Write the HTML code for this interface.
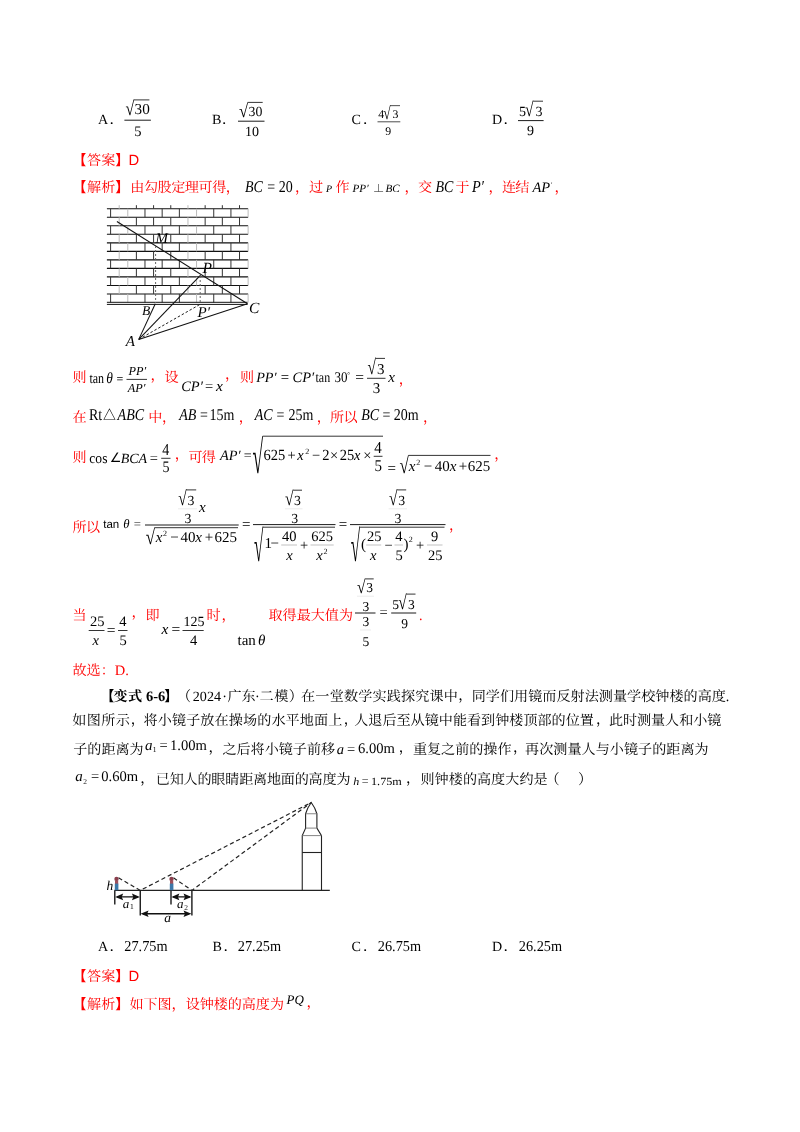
<!DOCTYPE html>
<html lang="zh"><head><meta charset="utf-8"><title>page</title>
<style>html,body{margin:0;padding:0;background:#fff}svg{display:block}text{font-family:"Liberation Serif","Noto Serif CJK SC",serif;white-space:pre;text-rendering:geometricPrecision}</style>
</head><body>
<svg width="800" height="1132" viewBox="0 0 800 1132">
<text x="98" y="123.8" font-size="14.1">A</text>
<text x="109.5" y="123.8" font-size="14.1">．</text>
<line x1="124.4" y1="120.2" x2="150.9" y2="120.2" stroke="#000" stroke-width="0.9"/>
<text transform="translate(125.50 115.10) scale(0.798 0.987)" font-size="20.0">√</text>
<line x1="133.9" y1="99.9" x2="149.4" y2="99.9" stroke="#000" stroke-width="0.8"/>
<text x="134.6" y="114.4" font-size="15.2">30</text>
<text x="134.2" y="135.6" font-size="14.5">5</text>
<text x="211.9" y="123.8" font-size="14.1">B</text>
<text x="222" y="123.8" font-size="14.1">．</text>
<line x1="238" y1="121.2" x2="264.5" y2="121.2" stroke="#000" stroke-width="0.9"/>
<text transform="translate(238.99 116.51) scale(0.827 0.918)" font-size="20.0">√</text>
<line x1="247.7" y1="102.4" x2="262.7" y2="102.4" stroke="#000" stroke-width="0.8"/>
<text x="248.5" y="115.7" font-size="13.8">30</text>
<text x="245" y="135.7" font-size="14">10</text>
<text x="351.5" y="123.8" font-size="14.1">C</text>
<text x="363" y="123.8" font-size="14.1">．</text>
<line x1="377.5" y1="121.8" x2="400.3" y2="121.8" stroke="#000" stroke-width="0.7"/>
<text x="378.3" y="118.4" font-size="11.8">4</text>
<text transform="translate(383.26 119.21) scale(0.673 0.881)" font-size="20.0">√</text>
<line x1="390.3" y1="105.64999999999999" x2="400" y2="105.64999999999999" stroke="#000" stroke-width="0.7"/>
<text x="392.5" y="118.4" font-size="11.8">3</text>
<text x="385.3" y="134.7" font-size="11.8">9</text>
<text x="492" y="123.8" font-size="14.1">D</text>
<text x="503.5" y="123.8" font-size="14.1">．</text>
<line x1="518" y1="120.6" x2="543.6" y2="120.6" stroke="#000" stroke-width="0.9"/>
<text x="519" y="115.6" font-size="14">5</text>
<text transform="translate(525.12 116.30) scale(0.769 0.981)" font-size="20.0">√</text>
<line x1="533.2" y1="101.2" x2="543" y2="101.2" stroke="#000" stroke-width="0.8"/>
<text x="535.5" y="115.6" font-size="14">3</text>
<text x="527" y="135.2" font-size="14">9</text>
<text x="72.2" y="164.5" font-size="14.1" fill="#f00" font-weight="bold" style='font-family:"Noto Sans CJK SC",sans-serif'>【</text>
<text x="87.1" y="164.5" font-size="14.1" fill="#f00">答案</text>
<text x="115.3" y="164.5" font-size="14.1" fill="#f00" font-weight="bold" style='font-family:"Noto Sans CJK SC",sans-serif'>】</text>
<text x="128.5" y="164.5" font-size="14.8" fill="#f00" style='font-family:"Liberation Sans",sans-serif'>D</text>
<text x="72.2" y="191.5" font-size="14.1" fill="#f00" font-weight="bold" style='font-family:"Noto Sans CJK SC",sans-serif'>【</text>
<text x="87.1" y="191.5" font-size="14.1" fill="#f00">解析</text>
<text x="115.3" y="191.5" font-size="14.1" fill="#f00" font-weight="bold" style='font-family:"Noto Sans CJK SC",sans-serif'>】</text>
<text x="130.3" y="191.5" font-size="14.1" fill="#f00" letter-spacing="-0.45">由勾股定理可得，</text>
<text transform="translate(245 191.5) scale(1 1.18)" font-size="14" font-style="italic">BC</text>
<text transform="translate(267.3 191.5) scale(1 1.18)" font-size="14">=</text>
<text transform="translate(278.7 191.5) scale(1 1.18)" font-size="14">20</text>
<text x="295" y="191.5" font-size="14.1" fill="#f00">，</text>
<text x="309" y="191.5" font-size="14.1" fill="#f00">过</text>
<text x="326" y="191.5" font-size="10" font-style="italic">P</text>
<text x="335.5" y="191.5" font-size="14.1" fill="#f00">作</text>
<text x="352.5" y="191.5" font-size="11.2" font-style="italic">PP′</text>
<text x="373" y="191.5" font-size="11.2">⊥</text>
<text x="385.5" y="191.5" font-size="11.2" font-style="italic">BC</text>
<text x="404.5" y="191.5" font-size="14.1" fill="#f00">，</text>
<text x="418" y="191.5" font-size="14.1" fill="#f00">交</text>
<text transform="translate(435.5 191.5) scale(1 1.18)" font-size="14" font-style="italic">BC</text>
<text x="455.5" y="191.5" font-size="14.1" fill="#f00">于</text>
<text transform="translate(472 191.5) scale(1 1.18)" font-size="14.3" font-style="italic">P′</text>
<text x="488.5" y="191.5" font-size="14.1" fill="#f00">，</text>
<text x="502" y="191.5" font-size="14.1" fill="#f00" letter-spacing="-0.8">连结</text>
<text x="532.5" y="191.5" font-size="14.5" font-style="italic">AP</text>
<text x="550.5" y="186.5" font-size="7" font-style="italic">′</text>
<text x="554.5" y="191.5" font-size="14.1" fill="#f00">，</text>
<text x="72.5" y="382.3" font-size="14.1" fill="#f00">则</text>
<text transform="translate(89.4 382.5) scale(1 1.22)" font-size="12">tan</text>
<text transform="translate(106.3 382.5) scale(1 1.15)" font-size="13.5" font-style="italic">θ</text>
<text transform="translate(116.5 382.5) scale(1 1.1)" font-size="12">=</text>
<line x1="126.5" y1="379.4" x2="147" y2="379.4" stroke="#000" stroke-width="0.8"/>
<text x="128.5" y="374.8" font-size="12.3" font-style="italic">PP′</text>
<text x="127.7" y="392.3" font-size="12.3" font-style="italic">AP′</text>
<text x="150.5" y="379.5" font-size="14.1" fill="#f00">，</text>
<text x="164.5" y="382.3" font-size="14.1" fill="#f00">设</text>
<text x="181.2" y="391.2" font-size="14.5" font-style="italic">CP′</text>
<text x="205" y="391.2" font-size="14.5">=</text>
<text x="216" y="391.2" font-size="15.5" font-style="italic">x</text>
<text x="225" y="379" font-size="14.1" fill="#f00">，</text>
<text x="240" y="382.3" font-size="14.1" fill="#f00">则</text>
<text x="256.2" y="382" font-size="14.2" font-style="italic">PP′</text>
<text x="280.8" y="382" font-size="14.8">=</text>
<text x="292.5" y="382" font-size="14.5" font-style="italic">CP′</text>
<text transform="translate(315.5 382) scale(1 1.2)" font-size="12">tan</text>
<text transform="translate(334.4 382) scale(0.88 1)" font-size="14.8">30</text>
<text x="347.3" y="377" font-size="7">°</text>
<text x="355.2" y="382" font-size="15.5">=</text>
<line x1="367" y1="378.3" x2="385.5" y2="378.3" stroke="#000" stroke-width="0.8"/>
<text transform="translate(367.62 374.40) scale(0.769 1.038)" font-size="20.0">√</text>
<line x1="375.7" y1="358.4" x2="385" y2="358.4" stroke="#000" stroke-width="0.8"/>
<text x="377" y="373.8" font-size="15">3</text>
<text x="372.8" y="392.5" font-size="15">3</text>
<text x="388.3" y="382" font-size="15" font-style="italic">x</text>
<text x="398.7" y="383.5" font-size="14.1" fill="#f00">，</text>
<text x="72.5" y="421.5" font-size="14.1" fill="#f00">在</text>
<text transform="translate(89 420) scale(1 1.18)" font-size="14">Rt</text>
<text transform="translate(102.9 420.2) scale(1 1.1)" font-size="12.9" style='font-family:"Noto Serif CJK SC",serif'>△</text>
<text transform="translate(117.6 420) scale(1 1.18)" font-size="14" font-style="italic">ABC</text>
<text x="148.3" y="421.5" font-size="14.1" fill="#f00" letter-spacing="-0.5">中，</text>
<text transform="translate(179.2 420) scale(1 1.18)" font-size="14" font-style="italic">AB</text>
<text transform="translate(200 420) scale(1 1.18)" font-size="14">=</text>
<text transform="translate(209.5 420) scale(1 1.18)" font-size="14">15m</text>
<text x="238.7" y="421.5" font-size="14.1" fill="#f00">，</text>
<text transform="translate(254.7 420) scale(1 1.18)" font-size="14" font-style="italic">AC</text>
<text transform="translate(276.5 420) scale(1 1.18)" font-size="14">=</text>
<text transform="translate(288.5 420) scale(1 1.18)" font-size="14">25m</text>
<text x="316.7" y="421.5" font-size="14.1" fill="#f00">，</text>
<text x="330" y="421.5" font-size="14.1" fill="#f00" letter-spacing="-0.5">所以</text>
<text transform="translate(361.2 420) scale(1 1.18)" font-size="14" font-style="italic">BC</text>
<text transform="translate(382.5 420) scale(1 1.18)" font-size="14">=</text>
<text transform="translate(393.7 420) scale(1 1.18)" font-size="14">20m</text>
<text x="423" y="421.5" font-size="14.1" fill="#f00">，</text>
<text x="72.5" y="462.3" font-size="14.1" fill="#f00">则</text>
<text transform="translate(89.3 462.5) scale(1 1.08)" font-size="13.6">cos</text>
<text x="109.7" y="462.3" font-size="13" style='font-family:"DejaVu Sans",sans-serif'>∠</text>
<text x="120.7" y="462.5" font-size="14" font-style="italic">BCA</text>
<text x="149.8" y="462.5" font-size="14.5">=</text>
<line x1="161.2" y1="458.3" x2="170.5" y2="458.3" stroke="#000" stroke-width="0.8"/>
<text transform="translate(162.2 454.5) scale(1 1.2)" font-size="14">4</text>
<text transform="translate(162.4 472.3) scale(1 1.14)" font-size="14">5</text>
<text x="174.7" y="458.5" font-size="14.1" fill="#f00">，</text>
<text x="188.5" y="462.3" font-size="14.1" fill="#f00" letter-spacing="-0.8">可得</text>
<text x="220" y="460.2" font-size="14.3" font-style="italic">AP′</text>
<text x="243.8" y="460" font-size="14">=</text>
<text transform="translate(252.52 472.57) scale(0.962 2.327)" font-size="20.0">√</text>
<line x1="262.7" y1="436.2" x2="383" y2="436.2" stroke="#000" stroke-width="0.8"/>
<text transform="translate(263.4 460) scale(1 1.07)" font-size="14.5">625</text>
<text x="287.6" y="460" font-size="14.5">+</text>
<text transform="translate(297.3 460) scale(1 1.07)" font-size="14.5" font-style="italic">x</text>
<text x="305.3" y="453.7" font-size="8">2</text>
<text x="312" y="460" font-size="14.5">−</text>
<text transform="translate(322.2 460) scale(1 1.07)" font-size="14.5">2</text>
<text x="330" y="460" font-size="14.5">×</text>
<text transform="translate(339.7 460) scale(1 1.07)" font-size="14.5">25</text>
<text transform="translate(354 460) scale(1 1.07)" font-size="14.5" font-style="italic">x</text>
<text x="363.3" y="460" font-size="14.5">×</text>
<line x1="373.7" y1="456.3" x2="382.5" y2="456.3" stroke="#000" stroke-width="0.8"/>
<text transform="translate(374.3 452.5) scale(1 1.12)" font-size="15">4</text>
<text transform="translate(374.5 471.2) scale(1 1.1)" font-size="15">5</text>
<text x="387.5" y="472.5" font-size="15">=</text>
<text transform="translate(399.58 472.69) scale(0.846 1.119)" font-size="20.0">√</text>
<line x1="408.5" y1="455.4" x2="490.5" y2="455.4" stroke="#000" stroke-width="0.8"/>
<text x="408.7" y="471.2" font-size="15" font-style="italic">x</text>
<text x="416.3" y="465" font-size="8">2</text>
<text x="423.7" y="471.2" font-size="15">−</text>
<text x="434.7" y="471.2" font-size="15">40</text>
<text x="449.7" y="471.2" font-size="15" font-style="italic">x</text>
<text x="458.7" y="471.2" font-size="15">+</text>
<text x="467.7" y="471.2" font-size="15">625</text>
<text x="494.2" y="459" font-size="14.1" fill="#f00">，</text>
<text x="72.5" y="532.3" font-size="14.1" fill="#f00" letter-spacing="-0.5">所以</text>
<text x="103.2" y="528.3" font-size="11.5" style='font-family:"Liberation Sans",sans-serif'>tan</text>
<text x="123.2" y="528.3" font-size="12.8" font-style="italic">θ</text>
<text x="133.8" y="528.2" font-size="12.8">=</text>
<line x1="145" y1="525" x2="238.7" y2="525" stroke="#000" stroke-width="0.9"/>
<text transform="translate(178.32 505.40) scale(0.769 1.006)" font-size="20.0">√</text>
<line x1="186.39999999999998" y1="489.9" x2="196.2" y2="489.9" stroke="#000" stroke-width="0.8"/>
<text x="187.6" y="504.5" font-size="13.8">3</text>
<line x1="178" y1="508.8" x2="197" y2="508.8" stroke="#ddd" stroke-width="0.6"/>
<text x="184.6" y="523" font-size="13.8">3</text>
<text x="198.9" y="512.3" font-size="15" font-style="italic">x</text>
<text transform="translate(145.78 543.89) scale(0.846 1.050)" font-size="20.0">√</text>
<line x1="154.7" y1="527.6999999999999" x2="238" y2="527.6999999999999" stroke="#000" stroke-width="0.8"/>
<text x="155.7" y="542" font-size="15" font-style="italic">x</text>
<text x="163" y="535.5" font-size="8">2</text>
<text x="170.2" y="542" font-size="15">−</text>
<text x="180.5" y="542" font-size="15">40</text>
<text x="195.3" y="542" font-size="15" font-style="italic">x</text>
<text x="204.8" y="542" font-size="15">+</text>
<text x="214.6" y="542" font-size="15">625</text>
<text x="242" y="529" font-size="15">=</text>
<line x1="253" y1="524.6" x2="335.5" y2="524.6" stroke="#000" stroke-width="0.9"/>
<text transform="translate(285.12 505.40) scale(0.769 0.987)" font-size="20.0">√</text>
<line x1="293.2" y1="490.2" x2="302" y2="490.2" stroke="#000" stroke-width="0.8"/>
<text x="293.9" y="504.5" font-size="13.8">3</text>
<line x1="285" y1="508.8" x2="302.5" y2="508.8" stroke="#ddd" stroke-width="0.6"/>
<text x="291.3" y="523" font-size="13.8">3</text>
<text transform="translate(254.08 561.28) scale(0.846 2.182)" font-size="20.0">√</text>
<line x1="263.0" y1="527.1999999999999" x2="335" y2="527.1999999999999" stroke="#000" stroke-width="0.8"/>
<text x="264.5" y="548" font-size="15">1</text>
<text x="270.5" y="548" font-size="15">−</text>
<line x1="281.2" y1="545" x2="297" y2="545" stroke="#999" stroke-width="0.6"/>
<text x="282" y="541.2" font-size="14.5">40</text>
<text x="286.2" y="560" font-size="14.5" font-style="italic">x</text>
<text x="300" y="549.5" font-size="14.5">+</text>
<line x1="310.5" y1="545" x2="333.7" y2="545" stroke="#999" stroke-width="0.6"/>
<text x="311.2" y="541.2" font-size="14.5">625</text>
<text x="316.2" y="560" font-size="14.5" font-style="italic">x</text>
<text x="323.5" y="554" font-size="8">2</text>
<text x="338.7" y="529" font-size="15">=</text>
<line x1="350" y1="524.6" x2="445.5" y2="524.6" stroke="#000" stroke-width="0.9"/>
<text transform="translate(389.12 505.40) scale(0.769 1.006)" font-size="20.0">√</text>
<line x1="397.2" y1="489.9" x2="406.2" y2="489.9" stroke="#000" stroke-width="0.8"/>
<text x="398.2" y="504.5" font-size="13.8">3</text>
<line x1="388.7" y1="508.8" x2="407" y2="508.8" stroke="#ddd" stroke-width="0.6"/>
<text x="394.6" y="523" font-size="13.8">3</text>
<text transform="translate(350.78 561.28) scale(0.846 2.182)" font-size="20.0">√</text>
<line x1="359.7" y1="527.1999999999999" x2="444.5" y2="527.1999999999999" stroke="#000" stroke-width="0.8"/>
<text x="361" y="549" font-size="15">(</text>
<line x1="366.2" y1="545" x2="381.2" y2="545" stroke="#999" stroke-width="0.6"/>
<text x="367" y="541.2" font-size="14.5">25</text>
<text x="370" y="560" font-size="14.5" font-style="italic">x</text>
<text x="384.5" y="549.5" font-size="14.5">−</text>
<line x1="394.5" y1="545" x2="403" y2="545" stroke="#999" stroke-width="0.6"/>
<text x="395.3" y="541.2" font-size="14.5">4</text>
<text x="395.5" y="560" font-size="14.5">5</text>
<text x="403.5" y="549" font-size="15">)</text>
<text x="408.7" y="542" font-size="8">2</text>
<text x="416" y="549.5" font-size="14.5">+</text>
<line x1="427" y1="545" x2="442.5" y2="545" stroke="#999" stroke-width="0.6"/>
<text x="431" y="541.2" font-size="14.5">9</text>
<text x="428" y="560" font-size="14.5">25</text>
<text x="449" y="530" font-size="14.1" fill="#f00">，</text>
<text x="72.5" y="620" font-size="14.1" fill="#f00">当</text>
<line x1="88.7" y1="630.5" x2="104.5" y2="630.5" stroke="#000" stroke-width="0.8"/>
<text x="90" y="626.2" font-size="14.5">25</text>
<text x="92.5" y="645" font-size="14.5" font-style="italic">x</text>
<text x="106.8" y="634.7" font-size="15.5">=</text>
<line x1="118" y1="630.5" x2="127.5" y2="630.5" stroke="#000" stroke-width="0.8"/>
<text x="119.3" y="626.2" font-size="14.5">4</text>
<text x="119.5" y="645" font-size="14.5">5</text>
<text x="131.5" y="617" font-size="14.1" fill="#f00">，</text>
<text x="145.5" y="620" font-size="14.1" fill="#f00">即</text>
<text x="161.4" y="633.9" font-size="15.5" font-style="italic">x</text>
<text x="171.6" y="633.9" font-size="15.5">=</text>
<line x1="182.5" y1="630.5" x2="203.7" y2="630.5" stroke="#000" stroke-width="0.8"/>
<text x="183.6" y="626.2" font-size="14">125</text>
<text x="190" y="645" font-size="14.5">4</text>
<text x="206.5" y="620" font-size="14.1" fill="#f00">时</text>
<text x="221.5" y="620" font-size="14.1" fill="#f00">，</text>
<text x="237.5" y="644.5" font-size="15">tan</text>
<text x="258" y="644.5" font-size="15" font-style="italic">θ</text>
<text x="268.5" y="620" font-size="14.1" fill="#f00">取得最大值为</text>
<line x1="355" y1="613" x2="375.5" y2="613" stroke="#000" stroke-width="0.9"/>
<text transform="translate(357.12 592.91) scale(0.769 0.912)" font-size="20.0">√</text>
<line x1="365.2" y1="578.9" x2="373.7" y2="578.9" stroke="#000" stroke-width="0.8"/>
<text x="366.2" y="592" font-size="13.5">3</text>
<line x1="357" y1="596.2" x2="374" y2="596.2" stroke="#ddd" stroke-width="0.6"/>
<text x="362.5" y="611.2" font-size="13.5">3</text>
<text x="362.5" y="626" font-size="13.5">3</text>
<line x1="360" y1="630" x2="371" y2="630" stroke="#ddd" stroke-width="0.6"/>
<text x="362.5" y="645.5" font-size="13.5">5</text>
<text x="379.5" y="617" font-size="14.5">=</text>
<line x1="391.2" y1="613" x2="416.2" y2="613" stroke="#000" stroke-width="0.9"/>
<text x="392.3" y="608.7" font-size="13.5">5</text>
<text transform="translate(398.32 609.40) scale(0.769 0.994)" font-size="20.0">√</text>
<line x1="406.4" y1="594.1" x2="415.5" y2="594.1" stroke="#000" stroke-width="0.8"/>
<text x="408" y="608.7" font-size="13.5">3</text>
<text x="401.2" y="627.5" font-size="13.5">9</text>
<text x="419" y="620" font-size="14.1" fill="#f00">.</text>
<text x="72.5" y="675" font-size="14.1" fill="#f00">故选：</text>
<text x="114.8" y="675" font-size="14.5" fill="#f00">D.</text>
<text x="100.3" y="700.8" font-size="14.1" font-weight="bold" style='font-family:"Noto Sans CJK SC",sans-serif'>【</text>
<text x="113.50 128.00" y="700.8" font-size="14.1" font-weight="bold">变式</text>
<text x="146" y="700.8" font-size="14.5" font-weight="bold">6-6</text>
<text x="164.3" y="700.8" font-size="14.1" font-weight="bold" style='font-family:"Noto Sans CJK SC",sans-serif'>】</text>
<text x="177" y="700.8" font-size="14.1">（</text>
<text x="192.8" y="700.8" font-size="14.1">2024</text>
<text x="222.2" y="700.8" font-size="14.1">·</text>
<text x="227.40 241.60" y="700.8" font-size="14.1">广东</text>
<text x="255" y="700.8" font-size="14.1">·</text>
<text x="259.60 274.15 288.70" y="700.8" font-size="14.1">二模）</text>
<text x="301.10 315.37 329.64 343.91 358.18 372.45 386.72 400.99 415.26 429.53 443.80" y="700.8" font-size="14.1">在一堂数学实践探究课中</text>
<text x="458.3" y="699.5999999999999" font-size="14.1">，</text>
<text x="471.70 485.82 499.94 514.06 528.18 542.30 556.42 570.54 584.66 598.79 612.91 627.03 641.15 655.27 669.39 683.51 697.63 711.75" y="700.8" font-size="14.1">同学们用镜而反射法测量学校钟楼的高度</text>
<text x="725.8" y="700.8" font-size="14.1">.</text>
<text x="72.30 86.75 101.20 115.65" y="725.1" font-size="14.1">如图所示</text>
<text x="130.8" y="723.9" font-size="14.1">，</text>
<text x="143.50 157.71 171.92 186.13 200.35 214.56 228.77 242.98 257.19 271.40 285.62 299.83 314.04 328.25" y="725.1" font-size="14.1">将小镜子放在操场的水平地面上</text>
<text x="343.8" y="723.9" font-size="14.1">，</text>
<text x="354.20 368.30 382.40 396.50 410.60 424.70 438.80 452.90 467.00 481.10 495.20 509.30 523.40 537.50 551.60 565.70 579.80" y="725.1" font-size="14.1">人退后至从镜中能看到钟楼顶部的位置</text>
<text x="596" y="723.9" font-size="14.1">，</text>
<text x="608.90 622.95 637.00 651.05 665.10 679.15 693.20 707.25" y="725.1" font-size="14.1">此时测量人和小镜</text>
<text x="73.25 87.31 101.38 115.44 129.50" y="753.5" font-size="14.1">子的距离为</text>
<text x="145" y="749.6" font-size="15" font-style="italic">a</text>
<text x="152.7" y="752.3" font-size="7.5">1</text>
<text x="159.6" y="749.6" font-size="14.5">=</text>
<text x="170" y="749.6" font-size="14.6">1.00m</text>
<text x="208.5" y="752.3" font-size="14.1">，</text>
<text x="222.40 236.49 250.57 264.66 278.74 292.83 306.91 321.00" y="753.5" font-size="14.1">之后将小镜子前移</text>
<text x="336.8" y="753.5" font-size="14.5" font-style="italic">a</text>
<text x="347" y="753.5" font-size="14.5">=</text>
<text x="358" y="753.2" font-size="14.6">6.00m</text>
<text x="398.8" y="752.3" font-size="14.1">，</text>
<text x="412.90 426.98 441.07 455.15 469.23 483.32 497.40" y="753.5" font-size="14.1">重复之前的操作</text>
<text x="513" y="752.3" font-size="14.1">，</text>
<text x="525.10 539.22 553.33 567.45 581.57 595.68 609.80 623.92 638.03 652.15 666.27 680.38 694.50" y="753.5" font-size="14.1">再次测量人与小镜子的距离为</text>
<text x="75.3" y="780.6" font-size="15" font-style="italic">a</text>
<text x="83.2" y="783.5" font-size="7.5">2</text>
<text x="91" y="780.6" font-size="14.5">=</text>
<text x="101.3" y="780.6" font-size="14.6">0.60m</text>
<text x="140.3" y="783.1999999999999" font-size="14.1">，</text>
<text x="155.75 169.65 183.54 197.44 211.33 225.23 239.13 253.02 266.92 280.82 294.71 308.61 322.50 336.40" y="784.4" font-size="14.1">已知人的眼睛距离地面的高度为</text>
<text transform="translate(353.3 784.7) scale(1 0.9)" font-size="12" font-style="italic">h</text>
<text x="361.7" y="784.7" font-size="12">=</text>
<text transform="translate(371 784.7) scale(1 0.9)" font-size="12.2">1.75m</text>
<text x="406" y="783.1999999999999" font-size="14.1">，</text>
<text x="420.50 434.62 448.75 462.88 477.00 491.12 505.25 519.38 533.50" y="784.4" font-size="14.1">则钟楼的高度大约是</text>
<text x="545.5" y="784.4" font-size="14.1">（</text>
<text x="578" y="784.4" font-size="14.1">）</text>
<text x="98" y="951.2" font-size="14.1">A</text>
<text x="109.5" y="951.2" font-size="14.1">．</text>
<text transform="translate(124.3 951) scale(1 1.06)" font-size="14.3">27.75m</text>
<text x="212.5" y="951.2" font-size="14.1">B</text>
<text x="223.5" y="951.2" font-size="14.1">．</text>
<text transform="translate(237.8 951) scale(1 1.06)" font-size="14.3">27.25m</text>
<text x="351.5" y="951.2" font-size="14.1">C</text>
<text x="363" y="951.2" font-size="14.1">．</text>
<text transform="translate(377.8 951) scale(1 1.06)" font-size="14.3">26.75m</text>
<text x="492" y="951.2" font-size="14.1">D</text>
<text x="503.5" y="951.2" font-size="14.1">．</text>
<text transform="translate(518.8 951) scale(1 1.06)" font-size="14.3">26.25m</text>
<text x="72.2" y="981.3" font-size="14.1" fill="#f00" font-weight="bold" style='font-family:"Noto Sans CJK SC",sans-serif'>【</text>
<text x="87.1" y="981.3" font-size="14.1" fill="#f00">答案</text>
<text x="115.3" y="981.3" font-size="14.1" fill="#f00" font-weight="bold" style='font-family:"Noto Sans CJK SC",sans-serif'>】</text>
<text x="128.5" y="981.3" font-size="14.8" fill="#f00" style='font-family:"Liberation Sans",sans-serif'>D</text>
<text x="72.2" y="1008.5" font-size="14.1" fill="#f00" font-weight="bold" style='font-family:"Noto Sans CJK SC",sans-serif'>【</text>
<text x="87.1" y="1008.5" font-size="14.1" fill="#f00">解析</text>
<text x="115.3" y="1008.5" font-size="14.1" fill="#f00" font-weight="bold" style='font-family:"Noto Sans CJK SC",sans-serif'>】</text>
<text x="129.5" y="1008.5" font-size="14.1" fill="#f00" textLength="154.5">如下图，设钟楼的高度为</text>
<text x="286.6" y="1004.4" font-size="13" font-style="italic">PQ</text>
<text x="306.5" y="1006.8" font-size="14.1" fill="#f00">，</text>
<g stroke="#111" stroke-width="1.1" fill="none">
<path d="M106.9 208.75H248.1"/>
<path d="M106.9 217.27H248.1"/>
<path d="M106.9 225.79H248.1"/>
<path d="M106.9 234.31H248.1"/>
<path d="M106.9 242.83H248.1"/>
<path d="M106.9 251.35H248.1"/>
<path d="M106.9 259.87H248.1"/>
<path d="M106.9 268.39H248.1"/>
<path d="M106.9 276.91H248.1"/>
<path d="M106.9 285.43H248.1"/>
<path d="M106.9 293.95H248.1"/>
</g>
<g stroke="#333" stroke-width="1" fill="none">
<path d="M110.60 208.75V217.27"/>
<path d="M127.79 208.75V217.27" stroke="#bbb"/>
<path d="M144.98 208.75V217.27"/>
<path d="M162.17 208.75V217.27"/>
<path d="M179.36 208.75V217.27"/>
<path d="M196.55 208.75V217.27" stroke="#bbb"/>
<path d="M213.74 208.75V217.27"/>
<path d="M230.93 208.75V217.27"/>
<path d="M248.12 208.75V217.27" stroke="#bbb"/>
<path d="M119.20 217.27V225.79" stroke="#bbb"/>
<path d="M136.39 217.27V225.79"/>
<path d="M153.58 217.27V225.79"/>
<path d="M170.77 217.27V225.79"/>
<path d="M187.96 217.27V225.79" stroke="#bbb"/>
<path d="M205.15 217.27V225.79"/>
<path d="M222.34 217.27V225.79"/>
<path d="M239.53 217.27V225.79"/>
<path d="M110.60 225.79V234.31"/>
<path d="M127.79 225.79V234.31" stroke="#bbb"/>
<path d="M144.98 225.79V234.31"/>
<path d="M162.17 225.79V234.31"/>
<path d="M179.36 225.79V234.31"/>
<path d="M196.55 225.79V234.31" stroke="#bbb"/>
<path d="M213.74 225.79V234.31"/>
<path d="M230.93 225.79V234.31"/>
<path d="M248.12 225.79V234.31" stroke="#bbb"/>
<path d="M119.20 234.31V242.83" stroke="#bbb"/>
<path d="M136.39 234.31V242.83"/>
<path d="M153.58 234.31V242.83"/>
<path d="M170.77 234.31V242.83"/>
<path d="M187.96 234.31V242.83" stroke="#bbb"/>
<path d="M205.15 234.31V242.83"/>
<path d="M222.34 234.31V242.83"/>
<path d="M239.53 234.31V242.83"/>
<path d="M110.60 242.83V251.35"/>
<path d="M127.79 242.83V251.35" stroke="#bbb"/>
<path d="M144.98 242.83V251.35"/>
<path d="M162.17 242.83V251.35"/>
<path d="M179.36 242.83V251.35"/>
<path d="M196.55 242.83V251.35" stroke="#bbb"/>
<path d="M213.74 242.83V251.35"/>
<path d="M230.93 242.83V251.35"/>
<path d="M248.12 242.83V251.35" stroke="#bbb"/>
<path d="M119.20 251.35V259.87" stroke="#bbb"/>
<path d="M136.39 251.35V259.87"/>
<path d="M153.58 251.35V259.87"/>
<path d="M170.77 251.35V259.87"/>
<path d="M187.96 251.35V259.87" stroke="#bbb"/>
<path d="M205.15 251.35V259.87"/>
<path d="M222.34 251.35V259.87"/>
<path d="M239.53 251.35V259.87"/>
<path d="M110.60 259.87V268.39"/>
<path d="M127.79 259.87V268.39" stroke="#bbb"/>
<path d="M144.98 259.87V268.39"/>
<path d="M162.17 259.87V268.39"/>
<path d="M179.36 259.87V268.39"/>
<path d="M196.55 259.87V268.39" stroke="#bbb"/>
<path d="M213.74 259.87V268.39"/>
<path d="M230.93 259.87V268.39"/>
<path d="M248.12 259.87V268.39" stroke="#bbb"/>
<path d="M119.20 268.39V276.91" stroke="#bbb"/>
<path d="M136.39 268.39V276.91"/>
<path d="M153.58 268.39V276.91"/>
<path d="M170.77 268.39V276.91"/>
<path d="M187.96 268.39V276.91" stroke="#bbb"/>
<path d="M205.15 268.39V276.91"/>
<path d="M222.34 268.39V276.91"/>
<path d="M239.53 268.39V276.91"/>
<path d="M110.60 276.91V285.43"/>
<path d="M127.79 276.91V285.43" stroke="#bbb"/>
<path d="M144.98 276.91V285.43"/>
<path d="M162.17 276.91V285.43"/>
<path d="M179.36 276.91V285.43"/>
<path d="M196.55 276.91V285.43" stroke="#bbb"/>
<path d="M213.74 276.91V285.43"/>
<path d="M230.93 276.91V285.43"/>
<path d="M248.12 276.91V285.43" stroke="#bbb"/>
<path d="M119.20 285.43V293.95" stroke="#bbb"/>
<path d="M136.39 285.43V293.95"/>
<path d="M153.58 285.43V293.95"/>
<path d="M170.77 285.43V293.95"/>
<path d="M187.96 285.43V293.95" stroke="#bbb"/>
<path d="M205.15 285.43V293.95"/>
<path d="M222.34 285.43V293.95"/>
<path d="M239.53 285.43V293.95"/>
<path d="M110.60 293.95V302.47"/>
<path d="M127.79 293.95V302.47" stroke="#bbb"/>
<path d="M144.98 293.95V302.47"/>
<path d="M162.17 293.95V302.47"/>
<path d="M179.36 293.95V302.47"/>
<path d="M196.55 293.95V302.47" stroke="#bbb"/>
<path d="M213.74 293.95V302.47"/>
<path d="M230.93 293.95V302.47"/>
<path d="M248.12 293.95V302.47" stroke="#bbb"/>
<path d="M119.20 205.2V208.75" stroke="#bbb"/>
<path d="M136.39 205.2V208.75"/>
<path d="M153.58 205.2V208.75"/>
<path d="M170.77 205.2V208.75"/>
<path d="M187.96 205.2V208.75" stroke="#bbb"/>
<path d="M205.15 205.2V208.75"/>
<path d="M222.34 205.2V208.75"/>
<path d="M239.53 205.2V208.75"/>
</g>
<path d="M106.9 302.3H247.5M106.9 304.4H247.5" stroke="#111" stroke-width="1" fill="none"/>
<g stroke="#111" stroke-width="1.05" fill="none">
<path d="M116.9 221.5L247.5 303.75"/>
<path d="M138.75 339.4L247.5 303.75"/>
<path d="M138.75 339.4L200.6 275.2"/>
<path d="M138.75 339.4L155.3 303.75"/>
<path d="M138.75 339.4L200 304.4" stroke-dasharray="2.5 2" stroke-width="0.95"/>
<path d="M155.6 246V303" stroke-dasharray="2 2" stroke-width="1" stroke="#666"/>
<path d="M200.2 276V304" stroke-dasharray="2 2" stroke-width="1" stroke="#666"/>
</g>
<text x="155.5" y="242.5" font-size="15" font-style="italic">M</text>
<text x="202.5" y="272.8" font-size="15.5" font-style="italic">P</text>
<text x="197.5" y="317.2" font-size="15" font-style="italic">P′</text>
<text x="249" y="313" font-size="15.5" font-style="italic">C</text>
<text x="142" y="315.3" font-size="13.5" font-style="italic">B</text>
<text x="125.8" y="345.8" font-size="15" font-style="italic">A</text>
<g stroke="#222" stroke-width="1.1" fill="none">
<path d="M114.4 890.4H329.8" stroke-width="1.3"/>
<path d="M302.25 890.4V835.6L305.6 828.1V813.75Q307.5 807.5 311.25 802.5Q315 807.5 316.9 813.75V828.1L321.5 835.6V890.4"/>
<path d="M302.25 852.5H321.5"/>
<path d="M302.25 835.6H321.5M305.6 828.1H316.9M305.6 813.75H316.9" stroke="#777" stroke-width="0.9"/>
<path d="M114.8 890.4V904.4M140.25 890.4V915.6M171 890.4V904.4M191.9 890.4V915.6" stroke-width="1.35" stroke="#111"/>
<path d="M117 896.9H138M173 896.9H190M143 913.75H189" stroke-width="1.3" stroke="#111"/>
</g>
<path d="M115.2 896.9L123.2 893.6L121.76 896.9L123.2 900.1999999999999Z" fill="#111"/>
<path d="M139.9 896.9L131.9 893.6L133.34 896.9L131.9 900.1999999999999Z" fill="#111"/>
<path d="M171.4 896.9L179.4 893.6L177.96 896.9L179.4 900.1999999999999Z" fill="#111"/>
<path d="M191.5 896.9L183.5 893.6L184.94 896.9L183.5 900.1999999999999Z" fill="#111"/>
<path d="M140.6 913.75L148.6 910.45L147.16 913.75L148.6 917.05Z" fill="#111"/>
<path d="M191.5 913.75L183.5 910.45L184.94 913.75L183.5 917.05Z" fill="#111"/>
<g stroke="#222" stroke-width="1.2" fill="none" stroke-dasharray="4.2 2.8">
<path d="M118.5 877.8L140.25 890.4L311.25 802.5"/>
<path d="M173.5 877.8L191.9 890.4L311.25 802.5"/>
</g>
<circle cx="116.5" cy="878.9" r="2.2" fill="#8a3f4d"/><rect x="115.0" y="880.8" width="3.2" height="3.4" fill="#a0505a"/><rect x="114.80000000000001" y="883.6" width="3.6" height="6.6" fill="#3d78a8"/>
<circle cx="171.5" cy="878.9" r="2.2" fill="#8a3f4d"/><rect x="170.0" y="880.8" width="3.2" height="3.4" fill="#a0505a"/><rect x="169.8" y="883.6" width="3.6" height="6.6" fill="#3d78a8"/>
<text x="106.5" y="889.8" font-size="13.5" font-style="italic">h</text>
<text x="122.8" y="907.5" font-size="13" font-style="italic">a</text>
<text x="130" y="909" font-size="7.5">1</text>
<text x="177" y="907.5" font-size="13" font-style="italic">a</text>
<text x="184.2" y="909.6" font-size="7.5">2</text>
<text x="164.2" y="922.3" font-size="13.5" font-style="italic">a</text>
</svg>
</body></html>
